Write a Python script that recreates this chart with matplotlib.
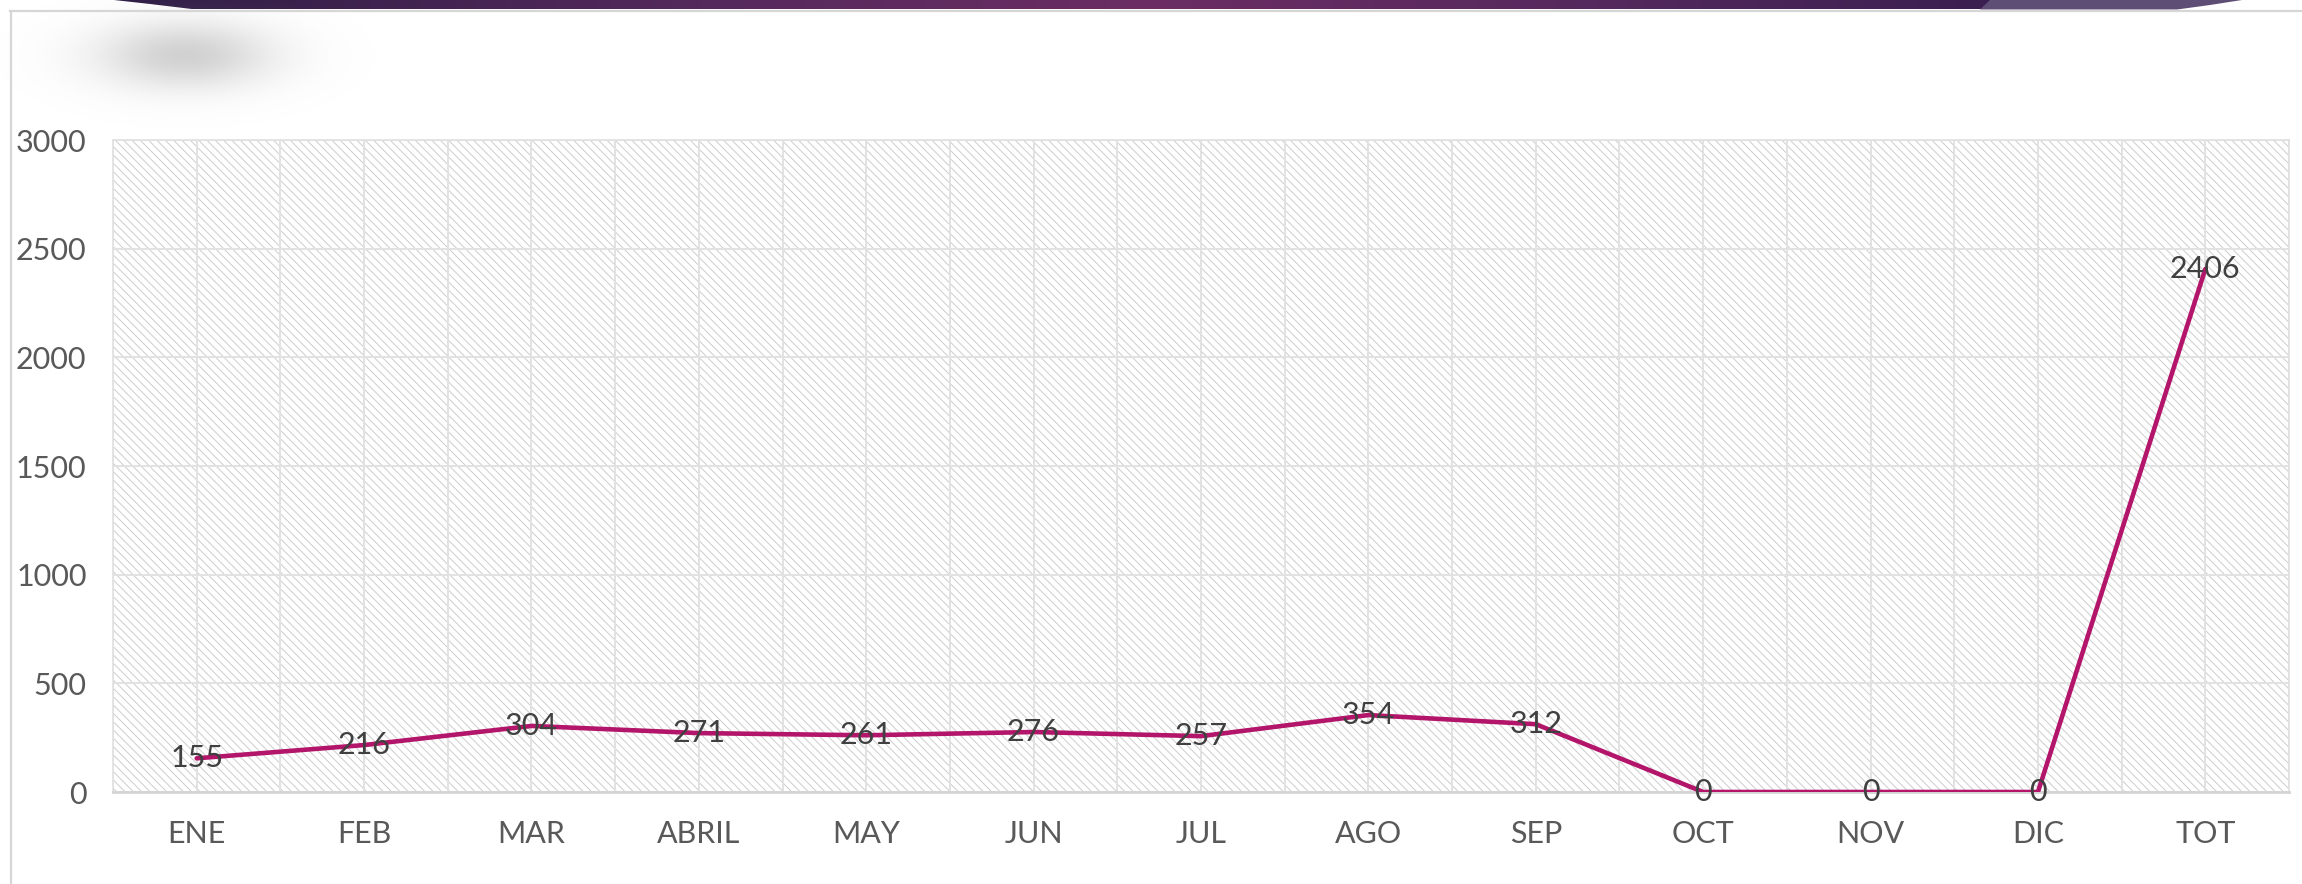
import numpy as np
import matplotlib
matplotlib.use("Agg")
import matplotlib.pyplot as plt
from matplotlib.patches import Rectangle, Polygon
from matplotlib.lines import Line2D

# ---- data ----
categories = ["ENE", "FEB", "MAR", "ABRIL", "MAY", "JUN", "JUL", "AGO", "SEP", "OCT", "NOV", "DIC", "TOT"]
values = [155, 216, 304, 271, 261, 276, 257, 354, 312, 0, 0, 0, 2406]
y_ticks = [0, 500, 1000, 1500, 2000, 2500, 3000]

# ---- style ----
LINE_COLOR = "#B3156A"
LABEL_COLOR = "#404040"
TICK_COLOR = "#595959"
GRID_COLOR = "#E2E2E2"
FONT = ["Lato", "DejaVu Sans"]

plt.rcParams["font.family"] = FONT
plt.rcParams["hatch.linewidth"] = 0.7

W, H = 2302, 884
fig = plt.figure(figsize=(W / 100, H / 100), dpi=100)
fig.patch.set_facecolor("white")

# ---- decorations overlay (pixel coordinates) ----
deco = fig.add_axes([0, 0, 1, 1], zorder=-1)
deco.set_xlim(0, W)
deco.set_ylim(H, 0)
deco.axis("off")

# purple banner with horizontal gradient
stops_x = [114, 700, 1150, 1600, 2000]
stops_c = ["#2E1D45", "#55295C", "#6B2D64", "#55295D", "#3A1F50"]
xs = np.linspace(100, 2050, 400)
cols = np.array([matplotlib.colors.to_rgb(c) for c in stops_c])
grad = np.stack([np.interp(xs, stops_x, cols[:, k]) for k in range(3)], axis=-1)[None, :, :]
light = Polygon([(1990, 0), (2242, 0), (2210, 5), (2177, 9.5), (1980, 9.5)], closed=True,
                facecolor="#5E4D74", edgecolor="none")
deco.add_patch(light)
im = deco.imshow(grad, extent=(100, 2050, 9.5, 0), aspect="auto", interpolation="bilinear")
banner = Polygon([(114, 0), (2019, 0), (1983, 9.5), (196, 9.5), (150, 4)], closed=True,
                 facecolor="none", edgecolor="none")
deco.add_patch(banner)
im.set_clip_path(banner)

# outer frame lines
deco.add_line(Line2D([10, W], [10.5, 10.5], color="#D6D6D6", lw=1.6))
deco.add_line(Line2D([11, 11], [10.5, H], color="#D6D6D6", lw=1.6))

# blurred gray blob (title placeholder)
gx = np.linspace(0, 400, 400)
gy = np.linspace(0, 140, 140)
GX, GY = np.meshgrid(gx, gy)
alpha = 0.45 * np.exp(-(((GX - 185) / 62) ** 2 + ((GY - 55) / 24) ** 2) / 2)
blob = np.zeros((140, 400, 4))
blob[..., :3] = 0.6
blob[..., 3] = alpha
deco.imshow(blob, extent=(0, 400, 140, 0), aspect="auto", interpolation="bilinear")

# ---- main chart ----
left, right, top, bottom = 113, 2289, 140, 792
ax = fig.add_axes([left / W, 1 - bottom / H, (right - left) / W, (bottom - top) / H])
n = len(categories)
x = np.arange(n)
ax.set_xlim(-0.5, n - 0.5)
ax.set_ylim(0, 3000)

# hatched plot area
ax.add_patch(Rectangle((0, 0), 1, 1, transform=ax.transAxes, facecolor="white",
                       edgecolor="#CDCDCD", lw=0, hatch="\\\\\\\\", zorder=0.1))

ax.set_axisbelow(True)
ax.set_xticks(x)
ax.set_xticks(np.arange(-0.5, n, 1.0), minor=True)
ax.set_xticklabels(categories)
ax.set_yticks(y_ticks)
ax.set_yticklabels([str(v) for v in y_ticks])
ax.grid(True, which="major", axis="both", color=GRID_COLOR, lw=1.4)
ax.grid(True, which="minor", axis="x", color=GRID_COLOR, lw=1.4)
ax.tick_params(axis="both", which="both", length=0)
ax.tick_params(axis="y", labelsize=22, labelcolor=TICK_COLOR, pad=19)
ax.tick_params(axis="x", labelsize=22, labelcolor=TICK_COLOR, pad=20)

for s in ["top", "right", "left"]:
    ax.spines[s].set_color("#E0E0E0")
    ax.spines[s].set_linewidth(1.2)
ax.spines["bottom"].set_color("#D4D4D4")
ax.spines["bottom"].set_linewidth(2)

ax.plot(x, values, color=LINE_COLOR, lw=3.3, solid_joinstyle="round",
        solid_capstyle="round", zorder=3)

for xi, v in zip(x, values):
    ax.text(xi, v, str(v), ha="center", va="center", fontsize=22, color=LABEL_COLOR,
            zorder=4)

fig.savefig("out.png", dpi=100)
